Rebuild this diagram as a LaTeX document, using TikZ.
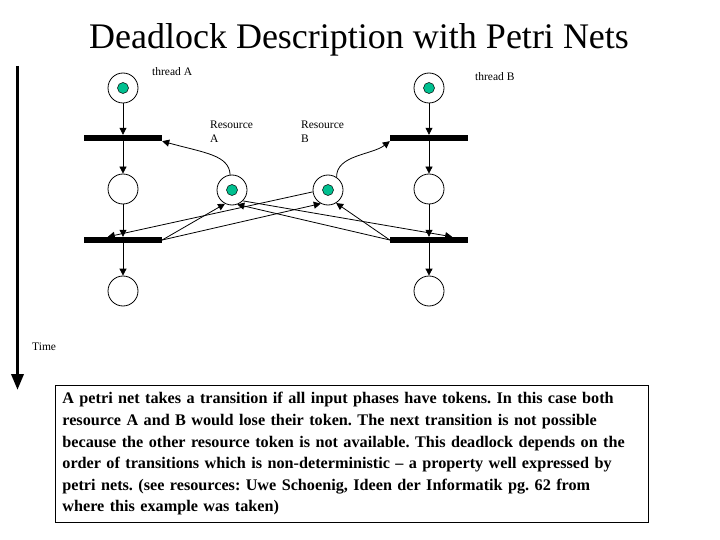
\documentclass[tikz,border=0pt]{standalone}
\usepackage{fontspec}
\setmainfont{Liberation Serif}
\usetikzlibrary{arrows.meta,calc}
\definecolor{tokengreen}{RGB}{0,192,144}
\begin{document}
\begin{tikzpicture}[x=1pt,y=-1pt,
  place/.style={circle,draw,line width=0.8pt,minimum size=30pt,inner sep=0pt},
  token/.style={circle,fill=tokengreen,draw=black,line width=0.5pt,minimum size=11pt,inner sep=0pt},
  bar/.style={rectangle,fill=black,minimum width=78pt,minimum height=6pt,inner sep=0pt},
  arc/.style={line width=0.8pt,-{Triangle[length=7pt,width=7pt]}},
  lbl/.style={font=\fontsize{11.5}{14}\selectfont,align=left,inner sep=0pt,anchor=base west}
]
\useasboundingbox (0,0) rectangle (720,540);
% title
\node[font=\fontsize{36}{40}\selectfont,anchor=base,inner sep=0pt] (title) at (359,49) {Deadlock Description with Petri Nets};
% thread A
\node[place] (pA0) at (123,88) {};
\node[token] (tA0) at (pA0) {};
\node[bar] (A1) at (123,138) {};
\node[place] (pA1) at (123,189) {};
\node[bar] (A2) at (123,240) {};
\node[place] (pA2) at (123,291) {};
% thread B
\node[place] (pB0) at (429,88) {};
\node[token] (tB0) at (pB0) {};
\node[bar] (B1) at (429,138) {};
\node[place] (pB1) at (429,189) {};
\node[bar] (B2) at (429,240) {};
\node[place] (pB2) at (429,291) {};
% resources
\node[place] (rA) at (232,190) {};
\node[token] (trA) at (rA) {};
\node[place] (rB) at (328,190) {};
\node[token] (trB) at (rB) {};
% labels
\node[lbl] (lA) at (152,76) {thread A};
\node[lbl] (lB) at (475,81) {thread B};
\node[lbl] (lrA) at (210,143) {Resource\\A};
\node[lbl] (lrB) at (301,143) {Resource\\B};
\node[lbl] (ltime) at (32,350) {Time};
% thread arcs
\draw[arc] (pA0) -- (A1);
\draw[arc] (A1) -- (pA1);
\draw[arc] (pA1) -- (A2);
\draw[arc] (A2) -- (pA2);
\draw[arc] (pB0) -- (B1);
\draw[arc] (B1) -- (pB1);
\draw[arc] (pB1) -- (B2);
\draw[arc] (B2) -- (pB2);
% resource curves
\draw[arc] (rA.97) .. controls (229,155) and (205,153) .. (A1.south east);
\draw[arc] (rB.56) .. controls (336,155) and (372,155) .. (B1.south west);
% crossing arcs
\draw[arc] (rA.315) -- ([xshift=-16pt]B2.north east);
\draw[arc] (rB.187) -- ([xshift=24pt]A2.north west);
\draw[arc] (A2.east) -- (rA.243);
\draw[arc] (A2.east) -- (rB.242);
\draw[arc] (B2.west) -- (rA.290);
\draw[arc] (B2.west) -- (rB.302);
% time arrow
\coordinate (t0) at (17.5,66);
\coordinate (t1) at (17.5,390);
\draw[line width=3.5pt,-{Triangle[length=16pt,width=12pt]}] (t0) -- (t1);
% text box
\node[draw,line width=0.8pt,anchor=north west,inner xsep=7pt,inner ysep=0pt,text width=579pt,minimum height=137pt,align=left,font=\fontsize{16.2}{21.6}\selectfont\bfseries\frenchspacing] (box) at (55,385)
{A petri net takes a transition if all input phases have tokens. In this case both\\
resource A and B would lose their token. The next transition is not possible\\
because the other resource token is not available. This deadlock depends on the\\
order of transitions which is non-deterministic -- a property well expressed by\\
petri nets. (see resources: Uwe Schoenig, Ideen der Informatik pg. 62 from\\
where this example was taken)};
\end{tikzpicture}
\end{document}
